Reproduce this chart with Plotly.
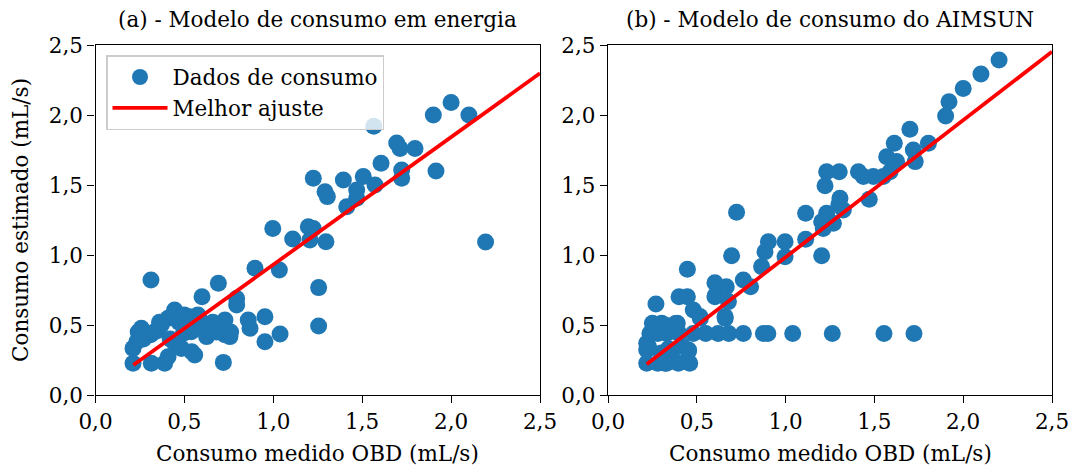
import plotly.graph_objects as go

# --- Consumption data (mL/s): measured OBD vs. estimated ---
x_energia = [2.00, 1.90, 2.10, 1.565, 1.694, 1.713, 1.797, 1.606, 1.915, 1.722,
             1.722, 1.225, 1.394, 1.506, 1.572, 1.291, 1.304, 1.469, 1.469, 1.413,
             0.997, 1.109, 1.197, 1.225, 1.206, 1.296, 2.194, 0.897, 1.034, 1.255,
             1.255, 0.312, 0.691, 0.599, 0.794, 0.794, 0.719, 1.038, 0.953, 0.859,
             0.869, 0.953, 0.756, 0.728, 0.625,
             0.211, 0.314, 0.389, 0.211, 0.258, 0.240, 0.445, 0.408, 0.370, 0.500,
             0.576, 0.633, 0.539, 0.483, 0.558, 0.408, 0.727, 0.760, 0.660, 0.310,
             0.232, 0.350, 0.494, 0.644, 0.681, 0.541, 0.457, 0.531, 0.588,
             0.270, 0.330, 0.420, 0.470, 0.520, 0.600, 0.680, 0.250, 0.360, 0.440]
y_energia = [2.09, 2.00, 2.00, 1.92, 1.80, 1.76, 1.76, 1.655, 1.60, 1.607,
             1.548, 1.548, 1.536, 1.56, 1.50, 1.452, 1.417, 1.464, 1.405, 1.345,
             1.19, 1.114, 1.202, 1.19, 1.107, 1.095, 1.093, 0.905, 0.893, 0.767,
             0.493, 0.821, 0.798, 0.702, 0.69, 0.643, 0.233, 0.436, 0.559, 0.536,
             0.476, 0.381, 0.417, 0.536, 0.417,
             0.226, 0.226, 0.226, 0.333, 0.476, 0.45, 0.607, 0.548, 0.50, 0.571,
             0.571, 0.476, 0.452, 0.333, 0.286, 0.274, 0.43, 0.45, 0.52, 0.43,
             0.381, 0.46, 0.44, 0.464, 0.488, 0.309, 0.345, 0.559, 0.536,
             0.40, 0.45, 0.40, 0.52, 0.50, 0.48, 0.45, 0.40, 0.52, 0.38]

x_aimsun = [2.202, 2.10, 2.00, 1.92, 1.901, 1.70, 1.804, 1.612, 1.719, 1.569,
            1.625, 1.73, 1.588, 1.231, 1.302, 1.41, 1.438, 1.494, 1.55, 1.222,
            1.471, 1.306, 1.325, 1.30, 1.113, 1.231, 1.203, 1.269, 1.212, 0.724,
            1.113, 1.203, 0.903, 0.997, 0.884, 0.997, 0.696, 0.865, 0.762, 0.803,
            0.602, 0.666, 0.447, 0.602, 0.678, 0.659, 0.40, 0.447, 0.27, 0.48,
            0.518, 0.604, 0.66, 0.52,
            0.236, 0.28, 0.33, 0.40, 0.48, 0.55, 0.62, 0.68, 0.762, 0.875,
            0.90, 1.04, 1.263, 1.554, 1.723,
            0.218, 0.28, 0.33, 0.396, 0.218, 0.452, 0.218, 0.25, 0.302, 0.39,
            0.30, 0.36, 0.42, 0.229, 0.32, 0.46, 0.454, 0.34, 0.38, 0.32]
y_aimsun = [2.393, 2.293, 2.19, 2.095, 1.993, 1.898, 1.798, 1.798, 1.75, 1.702,
            1.667, 1.667, 1.595, 1.595, 1.595, 1.595, 1.56, 1.56, 1.56, 1.495,
            1.398, 1.405, 1.321, 1.36, 1.298, 1.298, 1.238, 1.226, 1.19, 1.305,
            1.112, 0.995, 1.095, 1.095, 1.024, 0.988, 0.995, 0.917, 0.821, 0.774,
            0.802, 0.774, 0.898, 0.702, 0.667, 0.56, 0.702, 0.702, 0.65, 0.607,
            0.56, 0.71, 0.548, 0.548,
            0.44, 0.44, 0.44, 0.44, 0.44, 0.44, 0.44, 0.44, 0.44, 0.44,
            0.44, 0.44, 0.44, 0.44, 0.44,
            0.226, 0.226, 0.226, 0.226, 0.321, 0.31, 0.369, 0.512, 0.512, 0.512,
            0.30, 0.31, 0.35, 0.345, 0.50, 0.226, 0.321, 0.33, 0.511, 0.226]

# Best-fit lines (start and end of each fitted segment)
fit_energia_x = [0.213, 2.5]
fit_energia_y = [0.214, 2.298]
fit_aimsun_x = [0.218, 2.5]
fit_aimsun_y = [0.219, 2.452]

tick_vals = [0.0, 0.5, 1.0, 1.5, 2.0, 2.5]
tick_text = ["0,0", "0,5", "1,0", "1,5", "2,0", "2,5"]

panel_titles = ["(a) - Modelo de consumo em energia", "(b) - Modelo de consumo do AIMSUN"]
x_label = "Consumo medido OBD (mL/s)"
y_label = "Consumo estimado (mL/s)"

BLUE = "#1f77b4"
FONT = "DejaVu Serif"
FS = 21.5

fig = go.Figure()

fig.add_trace(go.Scatter(x=x_energia, y=y_energia, mode="markers", name="Dados de consumo",
                         marker=dict(color=BLUE, size=17, line=dict(width=0)),
                         xaxis="x", yaxis="y"))
fig.add_trace(go.Scatter(x=fit_energia_x, y=fit_energia_y, mode="lines", name="Melhor ajuste",
                         line=dict(color="red", width=3.8), xaxis="x", yaxis="y"))
fig.add_trace(go.Scatter(x=x_aimsun, y=y_aimsun, mode="markers", showlegend=False,
                         marker=dict(color=BLUE, size=17, line=dict(width=0)),
                         xaxis="x2", yaxis="y2"))
fig.add_trace(go.Scatter(x=fit_aimsun_x, y=fit_aimsun_y, mode="lines", showlegend=False,
                         line=dict(color="red", width=3.8), xaxis="x2", yaxis="y2"))

W, H = 1070, 465
left_dom = [95.5 / W, 540 / W]
right_dom = [608 / W, 1052 / W]
y_dom = [1 - 395 / H, 1 - 45 / H]

axis_common = dict(range=[0, 2.5], tickvals=tick_vals, ticktext=tick_text,
                   showgrid=False, zeroline=False, showline=True, mirror=True,
                   linecolor="black", linewidth=1.3, ticks="outside", ticklen=7,
                   tickwidth=1.3, tickcolor="black", automargin=False,
                   tickfont=dict(family=FONT, size=FS, color="black"))

fig.update_layout(
    width=W, height=H,
    margin=dict(l=0, r=0, t=0, b=0, autoexpand=False),
    paper_bgcolor="white", plot_bgcolor="white",
    font=dict(family=FONT, size=FS, color="black"),
    xaxis=dict(domain=left_dom, anchor="y", **axis_common),
    yaxis=dict(domain=y_dom, anchor="x", **axis_common),
    xaxis2=dict(domain=right_dom, anchor="y2", **axis_common),
    yaxis2=dict(domain=y_dom, anchor="x2", **axis_common),
    showlegend=True,
    legend=dict(x=106 / W, y=1 - 55 / H, xanchor="left", yanchor="top",
                bgcolor="rgba(255,255,255,0.8)", bordercolor="#cccccc", borderwidth=1.5,
                font=dict(family=FONT, size=FS, color="black"), itemwidth=55,
                tracegroupgap=0),
    annotations=[
        dict(text=panel_titles[0], x=sum(left_dom) / 2, y=1 - 20 / H, xref="paper", yref="paper",
             showarrow=False, font=dict(family=FONT, size=FS), xanchor="center", yanchor="middle"),
        dict(text=panel_titles[1], x=sum(right_dom) / 2, y=1 - 20 / H, xref="paper", yref="paper",
             showarrow=False, font=dict(family=FONT, size=FS), xanchor="center", yanchor="middle"),
        dict(text=x_label, x=sum(left_dom) / 2, y=1 - 453 / H, xref="paper", yref="paper",
             showarrow=False, font=dict(family=FONT, size=FS), xanchor="center", yanchor="middle"),
        dict(text=x_label, x=sum(right_dom) / 2, y=1 - 453 / H, xref="paper", yref="paper",
             showarrow=False, font=dict(family=FONT, size=FS), xanchor="center", yanchor="middle"),
        dict(text=y_label, x=20 / W, y=sum(y_dom) / 2, xref="paper", yref="paper", textangle=-90,
             showarrow=False, font=dict(family=FONT, size=FS), xanchor="center", yanchor="middle"),
    ],
)

fig.write_html("out.html")
